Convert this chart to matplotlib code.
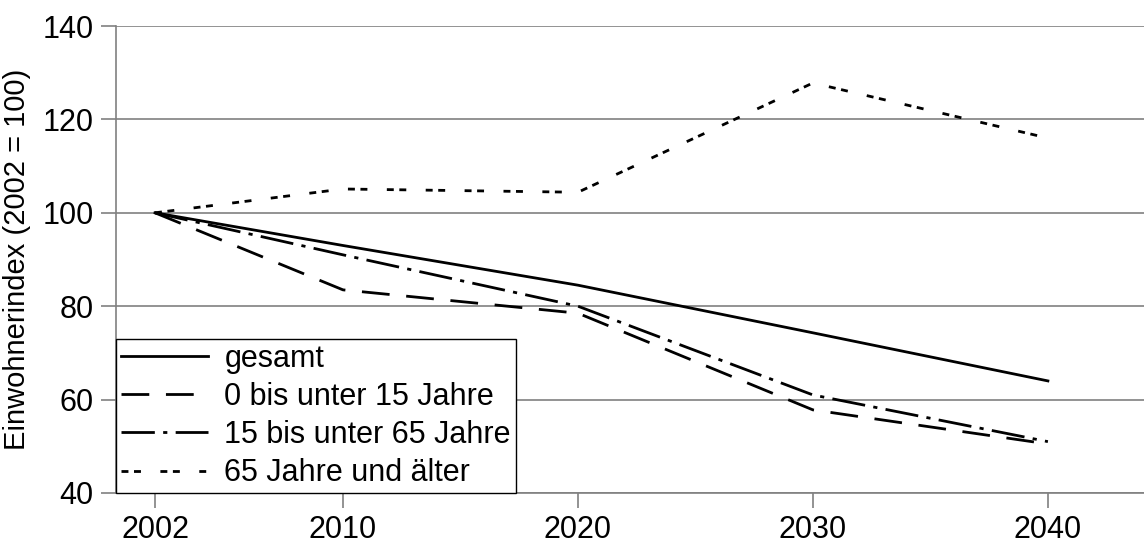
import matplotlib
matplotlib.use("Agg")
import matplotlib.pyplot as plt

years = [2002, 2010, 2020, 2030, 2040]
gesamt = [100, 93, 84.5, 74.3, 64]
jung = [100, 83.5, 78.5, 57.8, 50.5]
mittel = [100, 91, 80, 61, 51]
alt = [100, 105.1, 104.4, 127.8, 116]
labels = ["gesamt", "0 bis unter 15 Jahre", "15 bis unter 65 Jahre", "65 Jahre und älter"]
yticks = [40, 60, 80, 100, 120, 140]

plt.rcParams['font.family'] = ['Liberation Sans', 'DejaVu Sans']

fig = plt.figure(figsize=(11.44, 5.48), dpi=100)
ax = fig.add_axes([116/1144, 1-493/548, 1-116/1144, (493-26)/548])

lw = 2.0
ax.plot(years, gesamt, color='black', lw=lw, linestyle='-', label=labels[0])
ax.plot(years, jung, color='black', lw=lw, linestyle=(0, (10, 6)), label=labels[1])
ax.plot(years, mittel, color='black', lw=lw, linestyle=(0, (12, 3, 1.5, 3)), label=labels[2])
ax.plot(years, alt, color='black', lw=lw, linestyle=(0, (2.5, 2, 2.5, 7)), label=labels[3])

ax.set_xlim(2000.34, 2044.09)
ax.set_ylim(40, 140)
ax.set_xticks(years)
ax.set_yticks(yticks)
ax.grid(axis='y', color='#808080', lw=1.2)
ax.set_axisbelow(True)
for s in ['top', 'right']:
    ax.spines[s].set_visible(False)
for s in ['left', 'bottom']:
    ax.spines[s].set_color('#808080')
    ax.spines[s].set_linewidth(1.2)
ax.tick_params(axis='both', colors='#808080', labelcolor='black', labelsize=22, length=11, width=1.2, pad=5)
ax.set_ylabel("Einwohnerindex (2002 = 100)", fontsize=21, labelpad=8)

leg = ax.legend(loc='lower left', bbox_to_anchor=(0, 0), fontsize=22, frameon=True,
                fancybox=False, edgecolor='black', framealpha=1, handlelength=2.85,
                handletextpad=0.55, labelspacing=0.27, borderaxespad=0, borderpad=0.15)
leg.get_frame().set_linewidth(1.0)

fig.savefig("out.png", dpi=100)
